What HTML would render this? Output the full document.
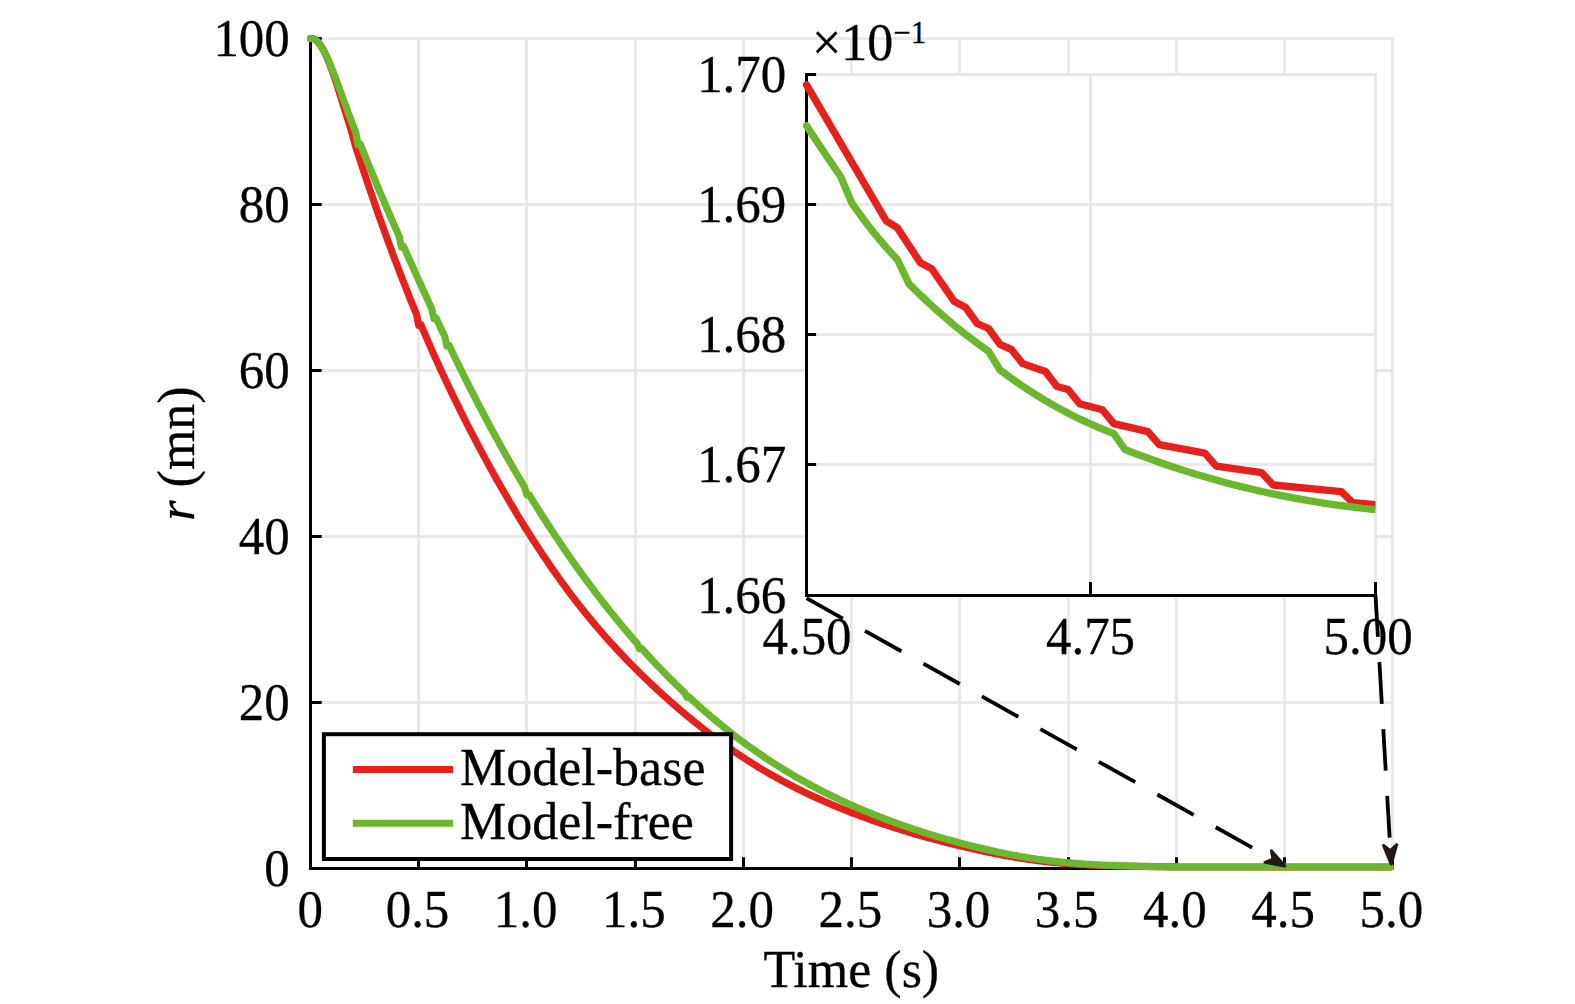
<!DOCTYPE html><html><head><meta charset="utf-8"><title>Figure</title><style>html,body{margin:0;padding:0;background:#fff}svg{display:block}text{font-family:"Liberation Serif","Times New Roman",serif;fill:#000;stroke:#000;stroke-width:0.3px;stroke-linejoin:round}</style></head><body>
<svg width="1575" height="1004" viewBox="0 0 1575 1004">
<rect width="1575" height="1004" fill="#fff"/>
<path d="M418.5 37.0 V868.5 M526.5 37.0 V868.5 M635.5 37.0 V868.5 M743.5 37.0 V868.5 M851.5 37.0 V868.5 M959.5 37.0 V868.5 M1068.5 37.0 V868.5 M1176.5 37.0 V868.5 M1284.5 37.0 V868.5 M1392.5 37.0 V868.5 M310.5 702.5 H1394.0 M310.5 536.5 H1394.0 M310.5 370.5 H1394.0 M310.5 204.5 H1394.0 M310.5 38.5 H1394.0" stroke="#e9e9e9" stroke-width="3.0" fill="none"/>
<path d="M310.5 37.0 V868.5 H1393.5 M418.5 868.5 V857.3 M526.5 868.5 V857.3 M635.5 868.5 V857.3 M743.5 868.5 V857.3 M851.5 868.5 V857.3 M959.5 868.5 V857.3 M1068.5 868.5 V857.3 M1176.5 868.5 V857.3 M1284.5 868.5 V857.3 M1392.5 868.5 V857.3 M310.5 702.5 H321.7 M310.5 536.5 H321.7 M310.5 370.5 H321.7 M310.5 204.5 H321.7 M310.5 38.5 H321.7" stroke="#000" stroke-width="3.0" fill="none" stroke-linejoin="miter"/>
<path d="M310.5 38.5 L312.7 38.5 L314.8 39.1 L317.0 40.9 L319.2 43.5 L321.3 46.5 L323.5 50.3 L325.6 54.6 L327.8 59.6 L330.0 65.0 L332.1 70.8 L334.3 76.9 L336.5 83.3 L338.6 90.2 L340.8 97.1 L343.0 104.1 L345.1 111.1 L347.3 118.0 L349.5 124.9 L351.6 131.7 L353.8 139.7 L355.9 147.6 L358.1 154.3 L360.3 160.9 L362.4 167.5 L364.6 174.0 L366.8 180.4 L368.9 186.9 L371.1 193.2 L373.3 199.5 L375.4 205.8 L377.6 212.0 L379.7 218.1 L381.9 224.2 L384.1 230.2 L386.2 236.2 L388.4 242.2 L390.6 248.0 L392.7 253.9 L394.9 259.6 L397.1 265.3 L399.2 271.0 L401.4 276.6 L403.6 282.1 L405.7 287.6 L407.9 293.1 L410.0 298.5 L412.2 303.8 L414.4 309.1 L416.5 314.3 L418.7 325.4 L420.9 324.6 L423.0 329.7 L425.2 334.8 L427.4 339.8 L429.5 344.7 L431.7 349.6 L433.8 354.5 L436.0 359.3 L438.2 364.1 L440.3 368.8 L442.5 373.5 L444.7 378.1 L446.8 382.8 L449.0 387.3 L451.2 391.9 L453.3 396.3 L455.5 400.8 L457.7 405.2 L459.8 409.6 L462.0 413.9 L464.1 418.2 L466.3 422.5 L468.5 426.8 L470.6 431.0 L472.8 435.2 L475.0 439.3 L477.1 443.4 L479.3 447.5 L481.5 451.6 L483.6 455.6 L485.8 459.6 L487.9 463.6 L490.1 467.5 L492.3 471.4 L494.4 475.3 L496.6 479.2 L498.8 483.0 L500.9 486.8 L503.1 490.6 L505.3 494.3 L507.4 498.0 L509.6 501.7 L511.8 505.4 L513.9 509.0 L516.1 512.6 L518.2 516.2 L520.4 519.8 L522.6 523.3 L524.7 526.8 L526.9 530.2 L529.1 533.7 L531.2 537.1 L533.4 540.5 L535.6 543.8 L537.7 547.1 L539.9 550.4 L542.0 553.7 L544.2 556.9 L546.4 560.1 L548.5 563.3 L550.7 566.5 L552.9 569.6 L555.0 572.7 L557.2 575.7 L559.4 578.8 L561.5 581.8 L563.7 584.7 L565.9 587.7 L568.0 590.6 L570.2 593.5 L572.3 596.4 L574.5 599.2 L576.7 602.0 L578.8 604.8 L581.0 607.5 L583.2 610.2 L585.3 612.9 L587.5 615.6 L589.7 618.2 L591.8 620.8 L594.0 623.4 L596.1 626.0 L598.3 628.5 L600.5 631.1 L602.6 633.5 L604.8 636.0 L607.0 638.5 L609.1 640.9 L611.3 643.3 L613.5 645.7 L615.6 648.0 L617.8 650.3 L620.0 652.7 L622.1 654.9 L624.3 657.2 L626.4 659.5 L628.6 661.7 L630.8 663.9 L632.9 666.1 L635.1 668.3 L637.3 670.4 L639.4 672.6 L641.6 674.7 L643.8 676.8 L645.9 678.9 L648.1 681.0 L650.2 683.0 L652.4 685.1 L654.6 687.1 L656.7 689.1 L658.9 691.1 L661.1 693.1 L663.2 695.1 L665.4 697.0 L667.6 698.9 L669.7 700.9 L671.9 702.8 L674.1 704.7 L676.2 706.6 L678.4 708.4 L680.5 710.3 L682.7 712.1 L684.9 713.9 L687.0 715.7 L689.2 717.5 L691.4 719.3 L693.5 721.1 L695.7 722.8 L697.9 724.6 L700.0 726.3 L702.2 728.0 L704.3 729.7 L706.5 731.4 L708.7 733.0 L710.8 734.7 L713.0 736.3 L715.2 737.9 L717.3 739.5 L719.5 741.1 L721.7 742.7 L723.8 744.2 L726.0 745.8 L728.2 747.3 L730.3 748.8 L732.5 750.3 L734.6 751.8 L736.8 753.3 L739.0 754.7 L741.1 756.2 L743.3 757.6 L745.5 759.0 L747.6 760.4 L749.8 761.8 L752.0 763.1 L754.1 764.5 L756.3 765.8 L758.4 767.2 L760.6 768.5 L762.8 769.8 L764.9 771.0 L767.1 772.3 L769.3 773.6 L771.4 774.8 L773.6 776.0 L775.8 777.2 L777.9 778.4 L780.1 779.6 L782.3 780.8 L784.4 782.0 L786.6 783.1 L788.7 784.3 L790.9 785.4 L793.1 786.5 L795.2 787.6 L797.4 788.7 L799.6 789.8 L801.7 790.8 L803.9 791.9 L806.1 792.9 L808.2 794.0 L810.4 795.0 L812.5 796.0 L814.7 797.0 L816.9 798.0 L819.0 799.0 L821.2 800.0 L823.4 800.9 L825.5 801.9 L827.7 802.8 L829.9 803.7 L832.0 804.7 L834.2 805.6 L836.4 806.5 L838.5 807.4 L840.7 808.3 L842.8 809.1 L845.0 810.0 L847.2 810.9 L849.3 811.7 L851.5 812.6 L853.7 813.4 L855.8 814.2 L858.0 815.0 L860.2 815.9 L862.3 816.7 L864.5 817.5 L866.6 818.2 L868.8 819.0 L871.0 819.8 L873.1 820.6 L875.3 821.3 L877.5 822.1 L879.6 822.8 L881.8 823.5 L884.0 824.3 L886.1 825.0 L888.3 825.7 L890.5 826.4 L892.6 827.1 L894.8 827.8 L896.9 828.5 L899.1 829.2 L901.3 829.9 L903.4 830.5 L905.6 831.2 L907.8 831.8 L909.9 832.5 L912.1 833.1 L914.3 833.8 L916.4 834.4 L918.6 835.0 L920.7 835.6 L922.9 836.3 L925.1 836.9 L927.2 837.5 L929.4 838.1 L931.6 838.6 L933.7 839.2 L935.9 839.8 L938.1 840.4 L940.2 840.9 L942.4 841.5 L944.6 842.1 L946.7 842.6 L948.9 843.2 L951.0 843.7 L953.2 844.2 L955.4 844.8 L957.5 845.3 L959.7 845.8 L961.9 846.3 L964.0 846.9 L966.2 847.4 L968.4 847.9 L970.5 848.4 L972.7 848.9 L974.8 849.3 L977.0 849.8 L979.2 850.3 L981.3 850.8 L983.5 851.2 L985.7 851.7 L987.8 852.2 L990.0 852.6 L992.2 853.0 L994.3 853.5 L996.5 853.9 L998.7 854.3 L1000.8 854.7 L1003.0 855.2 L1005.1 855.6 L1007.3 856.0 L1009.5 856.3 L1011.6 856.7 L1013.8 857.1 L1016.0 857.5 L1018.1 857.8 L1020.3 858.2 L1022.5 858.5 L1024.6 858.8 L1026.8 859.2 L1028.9 859.5 L1031.1 859.8 L1033.3 860.1 L1035.4 860.4 L1037.6 860.7 L1039.8 861.0 L1041.9 861.2 L1044.1 861.5 L1046.3 861.7 L1048.4 862.0 L1050.6 862.2 L1052.8 862.4 L1054.9 862.6 L1057.1 862.8 L1059.2 863.0 L1061.4 863.2 L1063.6 863.4 L1065.7 863.6 L1067.9 863.7 L1070.1 863.9 L1072.2 864.1 L1074.4 864.2 L1076.6 864.3 L1078.7 864.5 L1080.9 864.6 L1083.0 864.7 L1085.2 864.8 L1087.4 864.9 L1089.5 865.1 L1091.7 865.2 L1093.9 865.2 L1096.0 865.3 L1098.2 865.4 L1100.4 865.5 L1102.5 865.6 L1104.7 865.6 L1106.9 865.7 L1109.0 865.8 L1111.2 865.8 L1113.3 865.9 L1115.5 866.0 L1117.7 866.0 L1119.8 866.1 L1122.0 866.1 L1124.2 866.2 L1126.3 866.2 L1128.5 866.2 L1130.7 866.3 L1132.8 866.3 L1135.0 866.4 L1137.1 866.4 L1139.3 866.4 L1141.5 866.5 L1143.6 866.5 L1145.8 866.5 L1148.0 866.6 L1150.1 866.6 L1152.3 866.6 L1154.5 866.6 L1156.6 866.7 L1158.8 866.7 L1161.0 866.8 L1163.1 866.8 L1165.3 866.8 L1167.4 866.9 L1169.6 866.9 L1171.8 866.9 L1173.9 866.9 L1176.1 866.9 L1178.3 867.0 L1180.4 867.0 L1182.6 867.0 L1184.8 867.0 L1186.9 867.0 L1189.1 867.0 L1191.2 867.0 L1193.4 867.0 L1195.6 867.0 L1197.7 867.0 L1199.9 867.0 L1202.1 867.0 L1204.2 867.0 L1206.4 867.0 L1208.6 867.0 L1210.7 867.0 L1212.9 867.0 L1215.1 867.0 L1217.2 867.0 L1219.4 867.0 L1221.5 867.0 L1223.7 867.0 L1225.9 867.0 L1228.0 867.0 L1230.2 867.0 L1232.4 867.0 L1234.5 867.0 L1236.7 867.0 L1238.9 867.0 L1241.0 867.0 L1243.2 867.0 L1245.3 867.0 L1247.5 867.0 L1249.7 867.0 L1251.8 867.0 L1254.0 867.0 L1256.2 867.0 L1258.3 867.0 L1260.5 867.0 L1262.7 867.0 L1264.8 867.0 L1267.0 867.0 L1269.2 867.0 L1271.3 867.0 L1273.5 867.0 L1275.6 867.0 L1277.8 867.0 L1280.0 867.0 L1282.1 867.0 L1284.3 867.0 L1286.5 867.0 L1288.6 867.0 L1290.8 867.0 L1293.0 867.0 L1295.1 867.0 L1297.3 867.0 L1299.4 867.0 L1301.6 867.0 L1303.8 867.0 L1305.9 867.0 L1308.1 867.0 L1310.3 867.0 L1312.4 867.0 L1314.6 867.0 L1316.8 867.0 L1318.9 867.0 L1321.1 867.0 L1323.3 867.0 L1325.4 867.0 L1327.6 867.0 L1329.7 867.0 L1331.9 867.0 L1334.1 867.0 L1336.2 867.0 L1338.4 867.0 L1340.6 867.0 L1342.7 867.0 L1344.9 867.0 L1347.1 867.0 L1349.2 867.0 L1351.4 867.0 L1353.5 867.0 L1355.7 867.0 L1357.9 867.0 L1360.0 867.0 L1362.2 867.0 L1364.4 867.0 L1366.5 867.0 L1368.7 867.0 L1370.9 867.0 L1373.0 867.0 L1375.2 867.0 L1377.4 867.0 L1379.5 867.0 L1381.7 867.0 L1383.8 867.0 L1386.0 867.0 L1388.2 867.0 L1390.3 867.0" stroke="#e6211d" stroke-width="7.1" fill="none" stroke-linecap="round" stroke-linejoin="round"/>
<path d="M310.5 38.5 L312.7 38.5 L314.8 39.3 L317.0 41.0 L319.2 43.5 L321.3 46.5 L323.5 50.2 L325.6 54.3 L327.8 58.9 L330.0 63.9 L332.1 69.3 L334.3 74.8 L336.5 80.6 L338.6 86.5 L340.8 92.5 L343.0 98.4 L345.1 104.3 L347.3 110.2 L349.5 116.0 L351.6 121.7 L353.8 127.3 L355.9 132.9 L358.1 144.8 L360.3 144.0 L362.4 149.4 L364.6 154.8 L366.8 160.2 L368.9 165.5 L371.1 170.8 L373.3 176.0 L375.4 181.2 L377.6 186.4 L379.7 191.5 L381.9 196.6 L384.1 201.6 L386.2 206.7 L388.4 211.7 L390.6 216.7 L392.7 221.7 L394.9 226.6 L397.1 231.6 L399.2 236.5 L401.4 247.0 L403.6 246.3 L405.7 251.2 L407.9 256.1 L410.0 260.9 L412.2 265.8 L414.4 270.6 L416.5 275.4 L418.7 280.2 L420.9 284.9 L423.0 289.7 L425.2 294.4 L427.4 299.2 L429.5 303.9 L431.7 308.5 L433.8 318.5 L436.0 317.8 L438.2 322.5 L440.3 327.1 L442.5 331.6 L444.7 336.2 L446.8 345.9 L449.0 345.3 L451.2 349.8 L453.3 354.2 L455.5 358.7 L457.7 363.1 L459.8 367.5 L462.0 371.9 L464.1 376.2 L466.3 380.6 L468.5 384.9 L470.6 389.1 L472.8 393.4 L475.0 397.6 L477.1 401.8 L479.3 406.0 L481.5 410.1 L483.6 414.3 L485.8 418.4 L487.9 422.4 L490.1 426.5 L492.3 430.5 L494.4 434.4 L496.6 438.4 L498.8 442.3 L500.9 446.2 L503.1 450.1 L505.3 454.0 L507.4 457.8 L509.6 461.6 L511.8 465.3 L513.9 469.1 L516.1 472.8 L518.2 476.5 L520.4 480.1 L522.6 483.8 L524.7 487.4 L526.9 495.1 L529.1 494.5 L531.2 498.1 L533.4 501.6 L535.6 505.1 L537.7 508.6 L539.9 512.0 L542.0 515.4 L544.2 518.8 L546.4 522.2 L548.5 525.5 L550.7 528.8 L552.9 532.1 L555.0 535.4 L557.2 538.6 L559.4 541.9 L561.5 545.1 L563.7 548.3 L565.9 551.4 L568.0 554.6 L570.2 557.7 L572.3 560.8 L574.5 563.8 L576.7 566.9 L578.8 569.9 L581.0 572.9 L583.2 575.9 L585.3 578.8 L587.5 581.8 L589.7 584.7 L591.8 587.6 L594.0 590.4 L596.1 593.3 L598.3 596.1 L600.5 598.9 L602.6 601.7 L604.8 604.5 L607.0 607.2 L609.1 610.0 L611.3 612.7 L613.5 615.3 L615.6 618.0 L617.8 620.6 L620.0 623.3 L622.1 625.9 L624.3 628.5 L626.4 631.0 L628.6 633.6 L630.8 636.1 L632.9 638.6 L635.1 641.1 L637.3 643.5 L639.4 648.8 L641.6 648.4 L643.8 650.8 L645.9 653.2 L648.1 655.6 L650.2 657.9 L652.4 660.3 L654.6 662.6 L656.7 664.9 L658.9 667.1 L661.1 669.4 L663.2 671.6 L665.4 673.9 L667.6 676.1 L669.7 678.2 L671.9 680.4 L674.1 682.6 L676.2 684.7 L678.4 686.8 L680.5 688.9 L682.7 691.0 L684.9 693.0 L687.0 697.4 L689.2 697.1 L691.4 699.1 L693.5 701.1 L695.7 703.1 L697.9 705.0 L700.0 707.0 L702.2 708.9 L704.3 710.8 L706.5 712.7 L708.7 714.5 L710.8 716.4 L713.0 718.2 L715.2 720.0 L717.3 721.9 L719.5 723.6 L721.7 725.4 L723.8 727.2 L726.0 728.9 L728.2 730.6 L730.3 732.3 L732.5 734.0 L734.6 735.7 L736.8 737.3 L739.0 739.0 L741.1 740.6 L743.3 742.2 L745.5 743.8 L747.6 745.4 L749.8 747.0 L752.0 748.5 L754.1 750.0 L756.3 751.5 L758.4 753.1 L760.6 754.5 L762.8 756.0 L764.9 757.5 L767.1 758.9 L769.3 760.3 L771.4 761.8 L773.6 763.2 L775.8 764.5 L777.9 765.9 L780.1 767.3 L782.3 768.6 L784.4 769.9 L786.6 771.3 L788.7 772.6 L790.9 773.9 L793.1 775.1 L795.2 776.4 L797.4 777.7 L799.6 778.9 L801.7 780.1 L803.9 781.3 L806.1 782.5 L808.2 783.7 L810.4 784.9 L812.5 786.1 L814.7 787.2 L816.9 788.4 L819.0 789.5 L821.2 790.6 L823.4 791.7 L825.5 792.8 L827.7 793.9 L829.9 795.0 L832.0 796.0 L834.2 797.1 L836.4 798.1 L838.5 799.2 L840.7 800.2 L842.8 801.2 L845.0 802.2 L847.2 803.2 L849.3 804.2 L851.5 805.1 L853.7 806.1 L855.8 807.0 L858.0 808.0 L860.2 808.9 L862.3 809.8 L864.5 810.7 L866.6 811.6 L868.8 812.5 L871.0 813.4 L873.1 814.3 L875.3 815.2 L877.5 816.0 L879.6 816.9 L881.8 817.7 L884.0 818.5 L886.1 819.4 L888.3 820.2 L890.5 821.0 L892.6 821.8 L894.8 822.6 L896.9 823.4 L899.1 824.1 L901.3 824.9 L903.4 825.7 L905.6 826.4 L907.8 827.1 L909.9 827.9 L912.1 828.6 L914.3 829.3 L916.4 830.0 L918.6 830.7 L920.7 831.4 L922.9 832.1 L925.1 832.8 L927.2 833.5 L929.4 834.1 L931.6 834.8 L933.7 835.5 L935.9 836.1 L938.1 836.8 L940.2 837.4 L942.4 838.0 L944.6 838.6 L946.7 839.3 L948.9 839.9 L951.0 840.5 L953.2 841.1 L955.4 841.7 L957.5 842.2 L959.7 842.8 L961.9 843.4 L964.0 844.0 L966.2 844.5 L968.4 845.1 L970.5 845.6 L972.7 846.2 L974.8 846.7 L977.0 847.2 L979.2 847.8 L981.3 848.3 L983.5 848.8 L985.7 849.3 L987.8 849.8 L990.0 850.3 L992.2 850.8 L994.3 851.2 L996.5 851.7 L998.7 852.2 L1000.8 852.6 L1003.0 853.1 L1005.1 853.5 L1007.3 853.9 L1009.5 854.4 L1011.6 854.8 L1013.8 855.2 L1016.0 855.6 L1018.1 856.0 L1020.3 856.4 L1022.5 856.8 L1024.6 857.1 L1026.8 857.5 L1028.9 857.8 L1031.1 858.2 L1033.3 858.5 L1035.4 858.8 L1037.6 859.2 L1039.8 859.5 L1041.9 859.8 L1044.1 860.1 L1046.3 860.3 L1048.4 860.6 L1050.6 860.9 L1052.8 861.1 L1054.9 861.4 L1057.1 861.6 L1059.2 861.8 L1061.4 862.1 L1063.6 862.3 L1065.7 862.5 L1067.9 862.7 L1070.1 862.9 L1072.2 863.1 L1074.4 863.2 L1076.6 863.4 L1078.7 863.6 L1080.9 863.7 L1083.0 863.9 L1085.2 864.0 L1087.4 864.2 L1089.5 864.3 L1091.7 864.4 L1093.9 864.5 L1096.0 864.7 L1098.2 864.8 L1100.4 864.9 L1102.5 865.0 L1104.7 865.1 L1106.9 865.2 L1109.0 865.3 L1111.2 865.4 L1113.3 865.4 L1115.5 865.5 L1117.7 865.6 L1119.8 865.7 L1122.0 865.7 L1124.2 865.8 L1126.3 865.9 L1128.5 865.9 L1130.7 866.0 L1132.8 866.1 L1135.0 866.1 L1137.1 866.2 L1139.3 866.2 L1141.5 866.3 L1143.6 866.3 L1145.8 866.4 L1148.0 866.4 L1150.1 866.5 L1152.3 866.5 L1154.5 866.5 L1156.6 866.6 L1158.8 866.7 L1161.0 866.7 L1163.1 866.8 L1165.3 866.8 L1167.4 866.8 L1169.6 866.9 L1171.8 866.9 L1173.9 866.9 L1176.1 866.9 L1178.3 867.0 L1180.4 867.0 L1182.6 867.0 L1184.8 867.0 L1186.9 867.0 L1189.1 867.0 L1191.2 867.0 L1193.4 867.0 L1195.6 867.0 L1197.7 867.0 L1199.9 867.0 L1202.1 867.0 L1204.2 867.0 L1206.4 867.0 L1208.6 867.0 L1210.7 867.0 L1212.9 867.0 L1215.1 867.0 L1217.2 867.0 L1219.4 867.0 L1221.5 867.0 L1223.7 867.0 L1225.9 867.0 L1228.0 867.0 L1230.2 867.0 L1232.4 867.0 L1234.5 867.0 L1236.7 867.0 L1238.9 867.0 L1241.0 867.0 L1243.2 867.0 L1245.3 867.0 L1247.5 867.0 L1249.7 867.0 L1251.8 867.0 L1254.0 867.0 L1256.2 867.0 L1258.3 867.0 L1260.5 867.0 L1262.7 867.0 L1264.8 867.0 L1267.0 867.0 L1269.2 867.0 L1271.3 867.0 L1273.5 867.0 L1275.6 867.0 L1277.8 867.0 L1280.0 867.0 L1282.1 867.0 L1284.3 867.0 L1286.5 867.0 L1288.6 867.0 L1290.8 867.0 L1293.0 867.0 L1295.1 867.0 L1297.3 867.0 L1299.4 867.0 L1301.6 867.0 L1303.8 867.0 L1305.9 867.0 L1308.1 867.0 L1310.3 867.0 L1312.4 867.0 L1314.6 867.0 L1316.8 867.0 L1318.9 867.0 L1321.1 867.0 L1323.3 867.0 L1325.4 867.0 L1327.6 867.0 L1329.7 867.0 L1331.9 867.0 L1334.1 867.0 L1336.2 867.0 L1338.4 867.0 L1340.6 867.0 L1342.7 867.0 L1344.9 867.0 L1347.1 867.0 L1349.2 867.0 L1351.4 867.0 L1353.5 867.0 L1355.7 867.0 L1357.9 867.0 L1360.0 867.0 L1362.2 867.0 L1364.4 867.0 L1366.5 867.0 L1368.7 867.0 L1370.9 867.0 L1373.0 867.0 L1375.2 867.0 L1377.4 867.0 L1379.5 867.0 L1381.7 867.0 L1383.8 867.0 L1386.0 867.0 L1388.2 867.0 L1390.3 867.0" stroke="#6bb72e" stroke-width="7.1" fill="none" stroke-linecap="round" stroke-linejoin="round"/>
<rect x="806.5" y="73.0" width="570.5" height="522.5" fill="#fff"/>
<path d="M806.5 464.5 H1377.0 M806.5 334.5 H1377.0 M806.5 204.5 H1377.0 M806.5 74.5 H1377.0 M1090.5 73.0 V595.5 M1375.5 73.0 V595.5" stroke="#e9e9e9" stroke-width="3.0" fill="none"/>
<path d="M806.5 73.0 V595.5 H1377.0 M806.5 464.5 H816.1 M806.5 334.5 H816.1 M806.5 204.5 H816.1 M806.5 74.5 H816.1 M1090.5 595.5 V582.0 M1375.5 595.5 V582.0" stroke="#000" stroke-width="3.0" fill="none"/>
<clipPath id="ic"><rect x="801.5" y="74.5" width="574.0" height="521.0"/></clipPath>
<g clip-path="url(#ic)">
<path d="M806.5 84.9 L886.2 220.9 L897.5 227.9 L920.3 262.7 L931.7 268.7 L954.4 301.6 L965.8 307.6 L977.2 323.5 L988.6 328.5 L1000.0 344.4 L1011.3 349.4 L1022.7 363.6 L1045.5 371.5 L1056.9 386.5 L1068.2 389.5 L1079.6 403.7 L1102.4 409.7 L1113.8 423.6 L1147.9 431.6 L1159.3 444.7 L1204.8 453.2 L1216.2 466.1 L1261.7 472.6 L1273.1 485.0 L1341.4 491.7 L1352.7 502.7 L1375.5 504.7 L1383.5 505.2" stroke="#e6211d" stroke-width="7.3" fill="none" stroke-linecap="round" stroke-linejoin="round"/>
<path d="M806.5 125.7 L817.9 143.1 L829.3 160.0 L840.6 176.5 L852.0 203.4 L863.4 219.2 L874.8 233.9 L886.2 247.4 L897.5 259.8 L908.9 283.8 L920.3 295.0 L931.7 305.7 L943.1 315.8 L954.4 325.5 L965.8 334.6 L977.2 343.2 L988.6 351.3 L1000.0 370.0 L1011.3 378.3 L1022.7 386.2 L1034.1 393.6 L1045.5 400.6 L1056.9 407.1 L1068.2 413.2 L1079.6 418.9 L1091.0 424.2 L1102.4 429.1 L1113.8 433.6 L1125.1 449.6 L1136.5 454.0 L1147.9 458.2 L1159.3 462.3 L1170.7 466.2 L1182.0 469.9 L1193.4 473.4 L1204.8 476.8 L1216.2 480.1 L1227.6 483.2 L1238.9 486.1 L1250.3 488.8 L1261.7 491.5 L1273.1 493.9 L1284.5 496.2 L1295.8 498.4 L1307.2 500.4 L1318.6 502.3 L1330.0 504.1 L1341.4 505.7 L1352.7 507.1 L1364.1 508.5 L1375.5 509.7 L1383.5 510.3" stroke="#6bb72e" stroke-width="7.3" fill="none" stroke-linecap="round" stroke-linejoin="round"/>
</g>
<path d="M806.5 598.2 L1270.4 857.8" stroke="#000" stroke-width="3.8" fill="none" stroke-dasharray="41.7 25.3"/><path d="M1284.8 865.9 L1265.0 862.3 L1273.0 859.3 L1271.4 850.8 Z" fill="#231815" stroke="#231815" stroke-width="3.0" stroke-linejoin="round"/>
<path d="M1375.5 595.3 L1390.2 847.6" stroke="#000" stroke-width="3.8" fill="none" stroke-dasharray="41.7 25.3"/><path d="M1391.2 864.1 L1383.5 845.5 L1390.4 850.6 L1396.7 844.7 Z" fill="#231815" stroke="#231815" stroke-width="3.0" stroke-linejoin="round"/>
<rect x="323.9" y="734.2" width="407.2" height="124.8" fill="#fff" stroke="#000" stroke-width="4"/>
<path d="M352.8 769.6 H453" stroke="#e6211d" stroke-width="7"/>
<path d="M352.8 823.3 H453" stroke="#6bb72e" stroke-width="7"/>
<text transform="translate(460.0 784.7) scale(1.000 1)" font-size="52">Model-base</text>
<text transform="translate(460.0 838.9) scale(1.000 1)" font-size="52">Model-free</text>
<text transform="translate(310.2 927.2) scale(0.980 1)" font-size="52" text-anchor="middle">0</text>
<text transform="translate(417.5 927.2) scale(0.980 1)" font-size="52" text-anchor="middle">0.5</text>
<text transform="translate(525.7 927.2) scale(0.980 1)" font-size="52" text-anchor="middle">1.0</text>
<text transform="translate(633.9 927.2) scale(0.980 1)" font-size="52" text-anchor="middle">1.5</text>
<text transform="translate(742.1 927.2) scale(0.980 1)" font-size="52" text-anchor="middle">2.0</text>
<text transform="translate(850.3 927.2) scale(0.980 1)" font-size="52" text-anchor="middle">2.5</text>
<text transform="translate(958.5 927.2) scale(0.980 1)" font-size="52" text-anchor="middle">3.0</text>
<text transform="translate(1066.7 927.2) scale(0.980 1)" font-size="52" text-anchor="middle">3.5</text>
<text transform="translate(1174.9 927.2) scale(0.980 1)" font-size="52" text-anchor="middle">4.0</text>
<text transform="translate(1283.1 927.2) scale(0.980 1)" font-size="52" text-anchor="middle">4.5</text>
<text transform="translate(1391.3 927.2) scale(0.980 1)" font-size="52" text-anchor="middle">5.0</text>
<text transform="translate(289.8 886.0) scale(0.980 1)" font-size="52" text-anchor="end">0</text>
<text transform="translate(289.8 720.0) scale(0.980 1)" font-size="52" text-anchor="end">20</text>
<text transform="translate(289.8 554.0) scale(0.980 1)" font-size="52" text-anchor="end">40</text>
<text transform="translate(289.8 388.0) scale(0.980 1)" font-size="52" text-anchor="end">60</text>
<text transform="translate(289.8 222.0) scale(0.980 1)" font-size="52" text-anchor="end">80</text>
<text transform="translate(289.8 56.0) scale(0.980 1)" font-size="52" text-anchor="end">100</text>
<text transform="translate(786.3 613.3) scale(0.980 1)" font-size="52" text-anchor="end">1.66</text>
<text transform="translate(786.3 482.3) scale(0.980 1)" font-size="52" text-anchor="end">1.67</text>
<text transform="translate(786.3 352.3) scale(0.980 1)" font-size="52" text-anchor="end">1.68</text>
<text transform="translate(786.3 222.3) scale(0.980 1)" font-size="52" text-anchor="end">1.69</text>
<text transform="translate(786.3 92.3) scale(0.980 1)" font-size="52" text-anchor="end">1.70</text>
<text transform="translate(807.0 654.0) scale(0.980 1)" font-size="52" text-anchor="middle">4.50</text>
<text transform="translate(1090.5 654.0) scale(0.980 1)" font-size="52" text-anchor="middle">4.75</text>
<text transform="translate(1368.1 654.0) scale(0.980 1)" font-size="52" text-anchor="middle">5.00</text>
<text transform="translate(812.0 59.6) scale(1.000 1)" font-size="52">×10<tspan font-size="31" dy="-17">−1</tspan></text>
<text transform="translate(851.3 986.7) scale(1.000 1)" font-size="52" text-anchor="middle">Time (s)</text>
<text transform="translate(193.6 453.5) rotate(-90) scale(1.000 1)" font-size="52" text-anchor="middle"><tspan font-style="italic">r</tspan> (mn)</text>
</svg></body></html>
